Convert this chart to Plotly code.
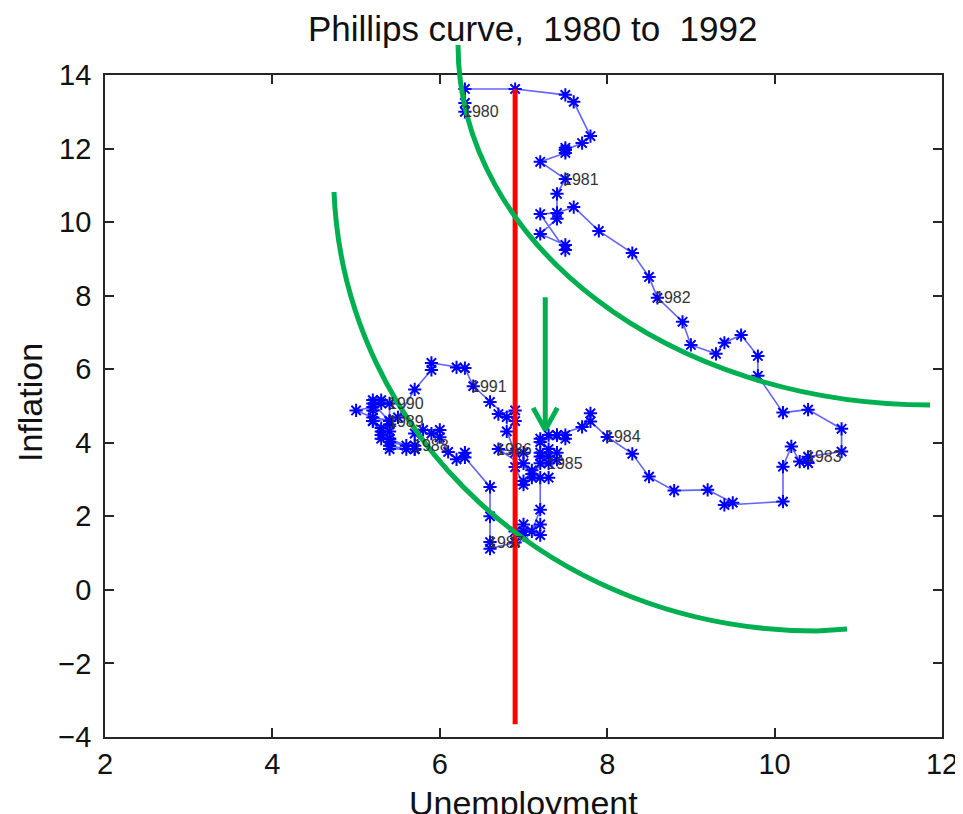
import plotly.graph_objects as go

# ---------------- data (monthly, Jan 1980 - Dec 1991) ----------------
years = list(range(1980, 1992))
unemployment = [
    6.3, 6.3, 6.3, 6.9, 7.5, 7.6, 7.8, 7.7, 7.5, 7.5, 7.5, 7.2,        # 1980
    7.5, 7.4, 7.4, 7.2, 7.5, 7.5, 7.2, 7.4, 7.6, 7.9, 8.3, 8.5,        # 1981
    8.6, 8.9, 9.0, 9.3, 9.4, 9.6, 9.8, 9.8, 10.1, 10.4, 10.8, 10.8,    # 1982
    10.4, 10.4, 10.3, 10.2, 10.1, 10.1, 9.4, 9.5, 9.2, 8.8, 8.5, 8.3,  # 1983
    8.0, 7.8, 7.8, 7.7, 7.4, 7.2, 7.5, 7.5, 7.3, 7.4, 7.2, 7.3,        # 1984
    7.3, 7.2, 7.2, 7.3, 7.2, 7.4, 7.4, 7.1, 7.1, 7.1, 7.0, 7.0,        # 1985
    6.7, 7.2, 7.2, 7.1, 7.2, 7.2, 7.0, 6.9, 7.0, 7.0, 6.9, 6.6,        # 1986
    6.6, 6.6, 6.6, 6.3, 6.3, 6.2, 6.1, 6.0, 5.9, 6.0, 5.8, 5.7,        # 1987
    5.7, 5.7, 5.7, 5.4, 5.6, 5.4, 5.4, 5.6, 5.4, 5.4, 5.3, 5.3,        # 1988
    5.4, 5.2, 5.0, 5.2, 5.2, 5.3, 5.2, 5.2, 5.3, 5.3, 5.4, 5.4,        # 1989
    5.4, 5.3, 5.2, 5.4, 5.4, 5.2, 5.5, 5.7, 5.9, 5.9, 6.2, 6.3,        # 1990
    6.4, 6.6, 6.8, 6.7, 6.9, 6.9, 6.8, 6.9, 6.9, 7.0, 7.0, 7.3,        # 1991
]
inflation = [
    13.00, 13.24, 13.62, 13.62, 13.46, 13.27, 12.34, 12.15, 11.96, 12.02, 11.88, 11.64,
    11.17, 10.77, 10.09, 9.68, 9.38, 9.24, 10.22, 10.25, 10.41, 9.76, 9.16, 8.51,
    7.94, 7.29, 6.66, 6.42, 6.72, 6.93, 6.36, 5.82, 4.82, 4.90, 4.38, 3.76,
    3.62, 3.45, 3.49, 3.90, 3.35, 2.40, 2.31, 2.37, 2.72, 2.70, 3.08, 3.70,
    4.16, 4.58, 4.80, 4.43, 4.21, 4.11, 4.11, 4.21, 4.21, 4.21, 4.02, 3.83,
    3.44, 3.44, 3.63, 3.63, 3.73, 3.73, 3.54, 3.25, 3.05, 3.15, 3.44, 3.73,
    3.83, 3.05, 2.18, 1.59, 1.49, 1.78, 1.59, 1.59, 1.78, 1.49, 1.29, 1.12,
    1.30, 2.00, 2.80, 3.60, 3.73, 3.55, 3.75, 4.15, 4.25, 4.35, 4.35, 4.25,
    3.92, 3.83, 3.83, 3.83, 3.83, 3.92, 4.02, 3.92, 4.11, 4.11, 4.11, 4.31,
    4.59, 4.69, 4.88, 4.97, 5.16, 5.07, 4.88, 4.59, 4.21, 4.40, 4.59, 4.50,
    5.07, 5.16, 5.07, 4.59, 4.31, 4.59, 4.69, 5.45, 5.98, 6.17, 6.05, 6.03,
    5.54, 5.11, 4.70, 4.78, 4.88, 4.59, 4.31, 3.73, 3.34, 2.86, 2.96, 3.05,
]
year_labels = [str(y) for y in years]

x_ticks = [2, 4, 6, 8, 10, 12]
y_ticks = [-4, -2, 0, 2, 4, 6, 8, 10, 12, 14]

# natural-rate line
natural_rate = 6.9
natural_rate_top = 13.62
natural_rate_bottom = -3.65

# hand-drawn green Phillips curves: quarter arcs (data units)
# (start x, start y) -> (end x, end y), curving down-right
upper_arc = dict(x0=6.218, y0=14.816, x1=11.857, y1=5.028, tilt=0.0)
lower_arc = dict(x0=4.736, y0=10.819, x1=10.507, y1=-1.117, tilt=0.12)
lower_arc_tail = (10.865, -1.063)

# green arrow (shift of the curve)
arrow_x = 7.26
arrow_y_from = 7.96
arrow_y_to = 4.35
arrow_head_dx = 0.145
arrow_head_dy = 0.60

# ---------------- geometry ----------------
OFF = 8                      # default page margin of the html body
W, H = 963 - OFF, 814 - OFF  # figure size
L, R, T, B = 105 - OFF, 942 - OFF, 75 - OFF, 737 - OFF  # plot box in figure px
x_range = [2, 12]
y_range = [-4, 14]
px_per_x = (R - L) / (x_range[1] - x_range[0])
px_per_y = (B - T) / (y_range[1] - y_range[0])
x2_range = [x_range[0] - L / px_per_x, x_range[1] + (W - R) / px_per_x]
y2_range = [y_range[0] - (H - B) / px_per_y, y_range[1] + T / px_per_y]


def px(sx):
    return (sx - OFF) / W


def py(sy):
    return 1 - (sy - OFF) / H


BLUE = "#0000FF"
GREEN = "#00B050"
RED = "#FF0000"
AX = "#262626"
FONT = "Liberation Sans, Arial, Helvetica, sans-serif"
K = 0.5523

fig = go.Figure()

fig.add_trace(go.Scatter(
    x=unemployment, y=inflation, mode="lines+markers",
    line=dict(color="rgba(60,60,255,0.8)", width=1.6),
    marker=dict(symbol="asterisk-open", size=11, color=BLUE,
                line=dict(color=BLUE, width=2)),
    xaxis="x", yaxis="y", showlegend=False, hoverinfo="skip",
))

fig.add_trace(go.Scatter(
    x=[natural_rate, natural_rate], y=[natural_rate_top, natural_rate_bottom],
    mode="lines", line=dict(color=RED, width=5),
    xaxis="x", yaxis="y", showlegend=False, hoverinfo="skip",
))

fig.add_trace(go.Scatter(
    x=[arrow_x, arrow_x], y=[arrow_y_from, arrow_y_to],
    mode="lines", line=dict(color=GREEN, width=5),
    xaxis="x", yaxis="y", showlegend=False, hoverinfo="skip",
))
fig.add_trace(go.Scatter(
    x=[arrow_x - arrow_head_dx, arrow_x, arrow_x + arrow_head_dx],
    y=[arrow_y_to + arrow_head_dy, arrow_y_to, arrow_y_to + arrow_head_dy],
    mode="lines", line=dict(color=GREEN, width=5),
    xaxis="x", yaxis="y", showlegend=False, hoverinfo="skip",
))


def arc_path(a, tail=None):
    dx = a["x1"] - a["x0"]
    dy = a["y0"] - a["y1"]
    c1 = (a["x0"] + a["tilt"], a["y0"] - K * dy)
    c2 = (a["x1"] - K * dx, a["y1"])
    p = (f"M {a['x0']},{a['y0']} C {c1[0]},{c1[1]} {c2[0]},{c2[1]} "
         f"{a['x1']},{a['y1']}")
    if tail:
        p += f" L {tail[0]},{tail[1]}"
    return p


shapes = []
for a, tail in [(upper_arc, None), (lower_arc, lower_arc_tail)]:
    shapes.append(dict(type="path", path=arc_path(a, tail), xref="x2", yref="y2",
                       line=dict(color=GREEN, width=5), layer="above"))

annotations = []
for i, lab in enumerate(year_labels):
    annotations.append(dict(
        x=unemployment[i * 12], y=inflation[i * 12], xref="x", yref="y",
        text=lab, showarrow=False, xanchor="left", yanchor="middle", xshift=-4,
        font=dict(family=FONT, size=16, color="#333333"),
    ))

annotations.append(dict(
    x=px(30), y=py(403), xref="paper", yref="paper", text="Inflation",
    textangle=-90, showarrow=False, xanchor="center", yanchor="middle",
    font=dict(family=FONT, size=34, color="#111111"),
))
annotations.append(dict(
    x=px(523), y=py(782), xref="paper", yref="paper",
    text="Unemployment", showarrow=False, xanchor="center", yanchor="top",
    font=dict(family=FONT, size=34, color="#111111"),
))
annotations.append(dict(
    x=px(532), y=py(28), xref="paper", yref="paper",
    text="Phillips curve,\u00a0 1980 to\u00a0 1992", showarrow=False,
    xanchor="center", yanchor="middle",
    font=dict(family=FONT, size=35, color="#111111"),
))

axis_common = dict(
    showline=True, linecolor=AX, linewidth=1.8, mirror="ticks",
    ticks="inside", ticklen=9, tickwidth=1.6, tickcolor=AX,
    showgrid=False, zeroline=False, automargin=False,
    tickfont=dict(family=FONT, size=29, color="#111111"),
)

fig.update_layout(
    width=W, height=H, autosize=False,
    margin=dict(l=0, r=0, t=0, b=0),
    paper_bgcolor="white", plot_bgcolor="rgba(0,0,0,0)",
    showlegend=False,
    xaxis=dict(domain=[L / W, R / W], range=x_range, tickvals=x_ticks,
               anchor="y", **axis_common),
    yaxis=dict(domain=[(H - B) / H, (H - T) / H], range=y_range, tickvals=y_ticks,
               anchor="x", ticklabelstandoff=6, **axis_common),
    xaxis2=dict(domain=[0, 1], range=x2_range, visible=False, anchor="y2"),
    yaxis2=dict(domain=[0, 1], range=y2_range, visible=False, anchor="x2"),
    shapes=shapes,
    annotations=annotations,
)

fig.write_html("out.html")
